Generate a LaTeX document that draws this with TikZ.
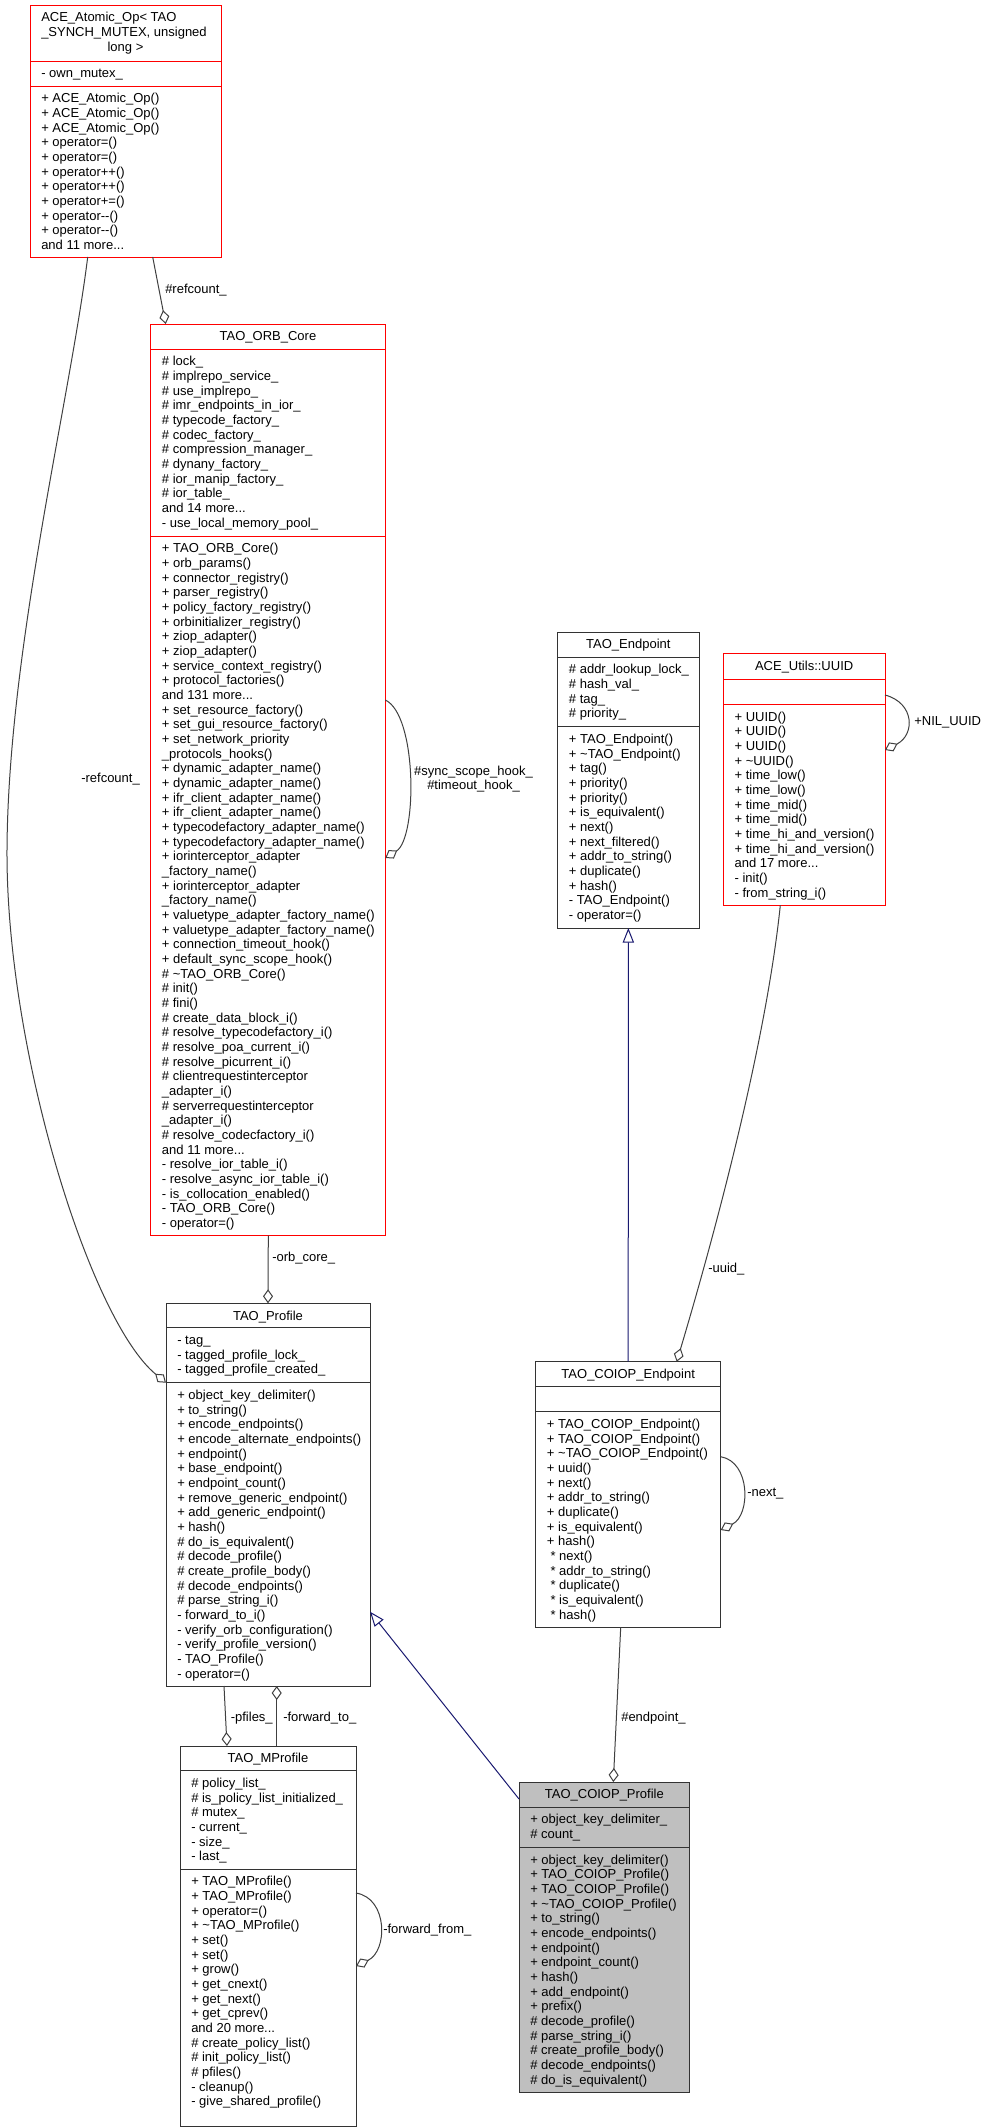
\documentclass[tikz,border=0pt]{standalone}
\usepackage{fontspec}
\setmainfont{Liberation Sans}
\usetikzlibrary{arrows.meta,calc}
\newcommand{\upx}{0.75pt}
\newcommand{\fs}{\fontsize{9.75}{11}\selectfont}
\definecolor{bordergray}{HTML}{333333}
\definecolor{edgegray}{HTML}{404040}
\definecolor{midblue}{HTML}{191970}
\definecolor{focusfill}{HTML}{BFBFBF}
\tikzset{
  comp/.style={draw=#1, line width=0.75pt, fill=white, inner sep=0pt, outer sep=0pt, anchor=north west},
  comp/.default=bordergray,
  txt/.style={anchor=north west, inner sep=0pt, align=left, font=\fs},
  ttl/.style={anchor=north, inner sep=0pt, font=\fs},
  lbl/.style={inner sep=0pt, font=\fs},
  agg/.style={draw=edgegray, line width=0.75pt, -{Diamond[open,length=10.5pt,width=7.5pt]}},
  inh/.style={draw=midblue, line width=0.75pt, -{Triangle[open,length=11pt,width=8.5pt]}},
}
\begin{document}
\begin{tikzpicture}[x=0.75pt,y=-0.75pt]
\fill[white] (0,0) rectangle (988,2128);
\useasboundingbox (0,0) rectangle (988,2128);

% ---------------- ACE_Atomic_Op
\node[comp=red, minimum width=191*\upx, minimum height=56*\upx] (ace_t) at (30,5) {};
\node[comp=red, minimum width=191*\upx, minimum height=25*\upx] (ace_a) at (30,61) {};
\node[comp=red, minimum width=191*\upx, minimum height=171*\upx] (ace_m) at (30,86) {};
\node[txt] (ace_tx) at ($(ace_t.north west)+(11,6.2)$) {\strut ACE\_Atomic\_Op< TAO\\\_SYNCH\_MUTEX, unsigned};
\node[ttl] (ace_tx3) at ($(ace_t.north)+(0,35.5)$) {\strut long >};
\node[txt] (ace_ax) at ($(ace_a.north west)+(11,6.2)$) {\strut - own\_mutex\_};
\node[txt] (ace_mx) at ($(ace_m.north west)+(11,6.2)$) {\strut + ACE\_Atomic\_Op()\\
+ ACE\_Atomic\_Op()\\
+ ACE\_Atomic\_Op()\\
+ operator=()\\
+ operator=()\\
+ operator++()\\
+ operator++()\\
+ operator+=()\\
+ operator-{}-()\\
+ operator-{}-()\\
and 11 more...};

% ---------------- TAO_ORB_Core
\node[comp=red, minimum width=234.6*\upx, minimum height=25*\upx] (orb_t) at (150.7,324) {};
\node[comp=red, minimum width=234.6*\upx, minimum height=187*\upx] (orb_a) at (150.7,349) {};
\node[comp=red, minimum width=234.6*\upx, minimum height=699.5*\upx] (orb_m) at (150.7,536) {};
\node[ttl] (orb_tx) at ($(orb_t.north)+(0,6.2)$) {\strut TAO\_ORB\_Core};
\node[txt] (orb_ax) at ($(orb_a.north west)+(11,6.2)$) {\strut \# lock\_\\
\# implrepo\_service\_\\
\# use\_implrepo\_\\
\# imr\_endpoints\_in\_ior\_\\
\# typecode\_factory\_\\
\# codec\_factory\_\\
\# compression\_manager\_\\
\# dynany\_factory\_\\
\# ior\_manip\_factory\_\\
\# ior\_table\_\\
and 14 more...\\
- use\_local\_memory\_pool\_};
\node[txt] (orb_mx) at ($(orb_m.north west)+(11,6.2)$) {\strut + TAO\_ORB\_Core()\\
+ orb\_params()\\
+ connector\_registry()\\
+ parser\_registry()\\
+ policy\_factory\_registry()\\
+ orbinitializer\_registry()\\
+ ziop\_adapter()\\
+ ziop\_adapter()\\
+ service\_context\_registry()\\
+ protocol\_factories()\\
and 131 more...\\
+ set\_resource\_factory()\\
+ set\_gui\_resource\_factory()\\
+ set\_network\_priority\\
\_protocols\_hooks()\\
+ dynamic\_adapter\_name()\\
+ dynamic\_adapter\_name()\\
+ ifr\_client\_adapter\_name()\\
+ ifr\_client\_adapter\_name()\\
+ typecodefactory\_adapter\_name()\\
+ typecodefactory\_adapter\_name()\\
+ iorinterceptor\_adapter\\
\_factory\_name()\\
+ iorinterceptor\_adapter\\
\_factory\_name()\\
+ valuetype\_adapter\_factory\_name()\\
+ valuetype\_adapter\_factory\_name()\\
+ connection\_timeout\_hook()\\
+ default\_sync\_scope\_hook()\\
\# \textasciitilde TAO\_ORB\_Core()\\
\# init()\\
\# fini()\\
\# create\_data\_block\_i()\\
\# resolve\_typecodefactory\_i()\\
\# resolve\_poa\_current\_i()\\
\# resolve\_picurrent\_i()\\
\# clientrequestinterceptor\\
\_adapter\_i()\\
\# serverrequestinterceptor\\
\_adapter\_i()\\
\# resolve\_codecfactory\_i()\\
and 11 more...\\
- resolve\_ior\_table\_i()\\
- resolve\_async\_ior\_table\_i()\\
- is\_collocation\_enabled()\\
- TAO\_ORB\_Core()\\
- operator=()};

% ---------------- TAO_Endpoint
\node[comp, minimum width=141.3*\upx, minimum height=25*\upx] (ep_t) at (557.7,632) {};
\node[comp, minimum width=141.3*\upx, minimum height=69.7*\upx] (ep_a) at (557.7,657) {};
\node[comp, minimum width=141.3*\upx, minimum height=201.3*\upx] (ep_m) at (557.7,726.7) {};
\node[ttl] (ep_tx) at ($(ep_t.north)+(0,6.2)$) {\strut TAO\_Endpoint};
\node[txt] (ep_ax) at ($(ep_a.north west)+(11,6.2)$) {\strut \# addr\_lookup\_lock\_\\
\# hash\_val\_\\
\# tag\_\\
\# priority\_};
\node[txt] (ep_mx) at ($(ep_m.north west)+(11,6.2)$) {\strut + TAO\_Endpoint()\\
+ \textasciitilde TAO\_Endpoint()\\
+ tag()\\
+ priority()\\
+ priority()\\
+ is\_equivalent()\\
+ next()\\
+ next\_filtered()\\
+ addr\_to\_string()\\
+ duplicate()\\
+ hash()\\
- TAO\_Endpoint()\\
- operator=()};

% ---------------- ACE_Utils::UUID
\node[comp=red, minimum width=161.7*\upx, minimum height=25.7*\upx] (uuid_t) at (723.3,653.3) {};
\node[comp=red, minimum width=161.7*\upx, minimum height=25.3*\upx] (uuid_a) at (723.3,679) {};
\node[comp=red, minimum width=161.7*\upx, minimum height=201*\upx] (uuid_m) at (723.3,704.3) {};
\node[ttl] (uuid_tx) at ($(uuid_t.north)+(0,6.2)$) {\strut ACE\_Utils::UUID};
\node[txt] (uuid_mx) at ($(uuid_m.north west)+(11,6.2)$) {\strut + UUID()\\
+ UUID()\\
+ UUID()\\
+ \textasciitilde UUID()\\
+ time\_low()\\
+ time\_low()\\
+ time\_mid()\\
+ time\_mid()\\
+ time\_hi\_and\_version()\\
+ time\_hi\_and\_version()\\
and 17 more...\\
- init()\\
- from\_string\_i()};

% ---------------- TAO_Profile
\node[comp, minimum width=204*\upx, minimum height=24.4*\upx] (prof_t) at (166,1303.3) {};
\node[comp, minimum width=204*\upx, minimum height=55*\upx] (prof_a) at (166,1327.7) {};
\node[comp, minimum width=204*\upx, minimum height=303.3*\upx] (prof_m) at (166,1382.7) {};
\node[ttl] (prof_tx) at ($(prof_t.north)+(0,6.2)$) {\strut TAO\_Profile};
\node[txt] (prof_ax) at ($(prof_a.north west)+(11,6.2)$) {\strut - tag\_\\
- tagged\_profile\_lock\_\\
- tagged\_profile\_created\_};
\node[txt] (prof_mx) at ($(prof_m.north west)+(11,6.2)$) {\strut + object\_key\_delimiter()\\
+ to\_string()\\
+ encode\_endpoints()\\
+ encode\_alternate\_endpoints()\\
+ endpoint()\\
+ base\_endpoint()\\
+ endpoint\_count()\\
+ remove\_generic\_endpoint()\\
+ add\_generic\_endpoint()\\
+ hash()\\
\# do\_is\_equivalent()\\
\# decode\_profile()\\
\# create\_profile\_body()\\
\# decode\_endpoints()\\
\# parse\_string\_i()\\
- forward\_to\_i()\\
- verify\_orb\_configuration()\\
- verify\_profile\_version()\\
- TAO\_Profile()\\
- operator=()};

% ---------------- TAO_COIOP_Endpoint
\node[comp, minimum width=185*\upx, minimum height=25*\upx] (cep_t) at (535.7,1361.7) {};
\node[comp, minimum width=185*\upx, minimum height=25*\upx] (cep_a) at (535.7,1386.7) {};
\node[comp, minimum width=185*\upx, minimum height=215.6*\upx] (cep_m) at (535.7,1411.7) {};
\node[ttl] (cep_tx) at ($(cep_t.north)+(0,6.2)$) {\strut TAO\_COIOP\_Endpoint};
\node[txt] (cep_mx) at ($(cep_m.north west)+(11,6.2)$) {\strut + TAO\_COIOP\_Endpoint()\\
+ TAO\_COIOP\_Endpoint()\\
+ \textasciitilde TAO\_COIOP\_Endpoint()\\
+ uuid()\\
+ next()\\
+ addr\_to\_string()\\
+ duplicate()\\
+ is\_equivalent()\\
+ hash()\\{}
* next()\\{}
* addr\_to\_string()\\{}
* duplicate()\\{}
* is\_equivalent()\\{}
* hash()};

% ---------------- TAO_COIOP_Profile
\node[comp, fill=focusfill, minimum width=170.7*\upx, minimum height=25*\upx] (cp_t) at (519,1782) {};
\node[comp, fill=focusfill, minimum width=170.7*\upx, minimum height=40.3*\upx] (cp_a) at (519,1807) {};
\node[comp, fill=focusfill, minimum width=170.7*\upx, minimum height=245*\upx] (cp_m) at (519,1847.3) {};
\node[ttl] (cp_tx) at ($(cp_t.north)+(0,6.2)$) {\strut TAO\_COIOP\_Profile};
\node[txt] (cp_ax) at ($(cp_a.north west)+(11,6.2)$) {\strut + object\_key\_delimiter\_\\
\# count\_};
\node[txt] (cp_mx) at ($(cp_m.north west)+(11,6.2)$) {\strut + object\_key\_delimiter()\\
+ TAO\_COIOP\_Profile()\\
+ TAO\_COIOP\_Profile()\\
+ \textasciitilde TAO\_COIOP\_Profile()\\
+ to\_string()\\
+ encode\_endpoints()\\
+ endpoint()\\
+ endpoint\_count()\\
+ hash()\\
+ add\_endpoint()\\
+ prefix()\\
\# decode\_profile()\\
\# parse\_string\_i()\\
\# create\_profile\_body()\\
\# decode\_endpoints()\\
\# do\_is\_equivalent()};

% ---------------- TAO_MProfile
\node[comp, minimum width=176*\upx, minimum height=24.6*\upx] (mp_t) at (180,1746) {};
\node[comp, minimum width=176*\upx, minimum height=98.4*\upx] (mp_a) at (180,1770.6) {};
\node[comp, minimum width=176*\upx, minimum height=257*\upx] (mp_m) at (180,1869) {};
\node[ttl] (mp_tx) at ($(mp_t.north)+(0,6.2)$) {\strut TAO\_MProfile};
\node[txt] (mp_ax) at ($(mp_a.north west)+(11,6.2)$) {\strut \# policy\_list\_\\
\# is\_policy\_list\_initialized\_\\
\# mutex\_\\
- current\_\\
- size\_\\
- last\_};
\node[txt] (mp_mx) at ($(mp_m.north west)+(11,6.2)$) {\strut + TAO\_MProfile()\\
+ TAO\_MProfile()\\
+ operator=()\\
+ \textasciitilde TAO\_MProfile()\\
+ set()\\
+ set()\\
+ grow()\\
+ get\_cnext()\\
+ get\_next()\\
+ get\_cprev()\\
and 20 more...\\
\# create\_policy\_list()\\
\# init\_policy\_list()\\
\# pfiles()\\
- cleanup()\\
- give\_shared\_profile()};

% ---------------- connectors
% #refcount_ : ACE -> ORB_Core
\draw[agg] ($(ace_m.south west)+(122.7,0)$) -- ($(orb_t.north west)+(15,0)$);
\node[lbl, anchor=west] (l_refc1) at (165,290) {\#refcount\_};

% -refcount_ : ACE -> TAO_Profile
\draw[agg] ($(ace_m.south west)+(57.7,0)$) .. controls (70,400) and (8,650) .. (7,850)
  .. controls (6,1050) and (90,1320) .. (prof_m.north west);
\node[lbl, anchor=west] (l_refc2) at (81,779) {-refcount\_};

% #sync_scope_hook_ / #timeout_hook_ : ORB self loop
\draw[agg] ($(orb_m.north east)+(0,164)$) .. controls +(32,15) and +(32,-20) .. ($(orb_m.north east)+(0,322)$);
\node[lbl, align=center] (l_sync) at (473.5,779) {\#sync\_scope\_hook\_\\\#timeout\_hook\_};

% -orb_core_
\draw[agg] ($(orb_m.south west)+(117.6,0)$) -- (prof_t.north);
\node[lbl, anchor=west] (l_orb) at (272,1258) {-orb\_core\_};

% UUID self loop
\draw[agg] ($(uuid_a.north east)+(0,16)$) .. controls +(30,8) and +(30,-15) .. ($(uuid_m.north east)+(0,45.7)$);
\node[lbl, anchor=west] (l_nil) at (914,722) {+NIL\_UUID};

% TAO_Endpoint <- TAO_COIOP_Endpoint
\draw[inh] (cep_t.north) -- (ep_m.south);

% -uuid_
\draw[agg] ($(uuid_m.south west)+(57,0)$) .. controls +(-15,145) and +(33.3,-111.7) .. ($(cep_t.north west)+(141,0)$);
\node[lbl, anchor=west] (l_uuid) at (708,1269) {-uuid\_};

% -next_ self loop
\draw[agg] ($(cep_m.north east)+(0,45)$) .. controls +(30,5) and +(30,-15) .. ($(cep_m.north east)+(0,118.3)$);
\node[lbl, anchor=west] (l_next) at (747,1494) {-next\_};

% #endpoint_
\draw[agg] ($(cep_m.south west)+(85,0)$) -- ($(cp_t.north west)+(94.3,0)$);
\node[lbl, anchor=west] (l_endp) at (621,1718) {\#endpoint\_};

% TAO_Profile <- TAO_COIOP_Profile
\draw[inh] ($(cp_t.north west)+(0,17)$) -- ($(prof_m.north east)+(0,229)$);

% -pfiles_
\draw[agg] ($(prof_m.south west)+(58,0)$) -- ($(mp_t.north west)+(47,0)$);
\node[lbl, anchor=east] (l_pf) at (273,1718) {-pfiles\_};

% -forward_to_
\draw[agg] ($(mp_t.north west)+(96.7,0)$) -- ($(prof_m.south west)+(110.7,0)$);
\node[lbl, anchor=west] (l_fwdto) at (283,1718) {-forward\_to\_};

% -forward_from_ self loop
\draw[agg] ($(mp_m.north east)+(0,24)$) .. controls +(32,5) and +(32,-15) .. ($(mp_m.north east)+(0,97)$);
\node[lbl, anchor=west] (l_fwdfrom) at (383,1930) {-forward\_from\_};

\end{tikzpicture}
\end{document}
